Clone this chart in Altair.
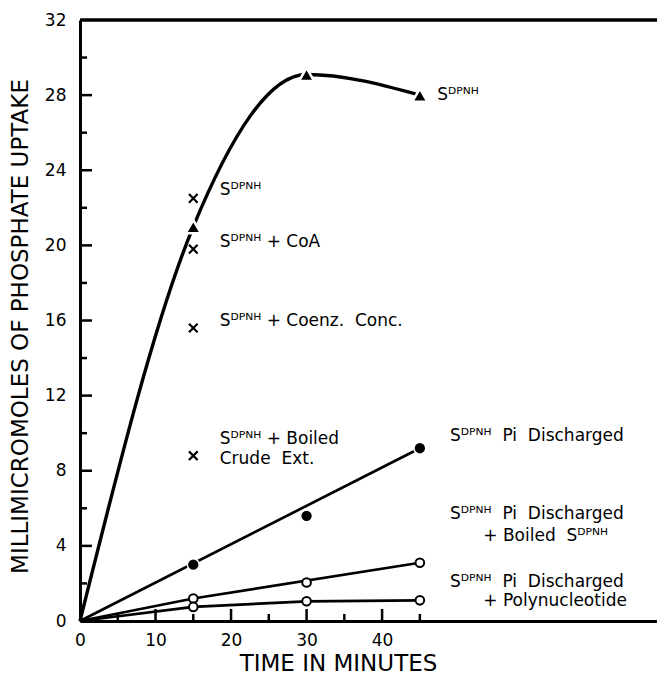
import altair as alt
import pandas as pd

# ---- data ----
tri_t = [0, 15, 30, 45]
tri_v = [0, 21.0, 29.1, 28.0]

cross_t = [15, 15, 15, 15]
cross_v = [22.5, 19.8, 15.6, 8.8]

filled_t = [15, 30, 45]
filled_v = [3.0, 5.6, 9.2]
filled_line_t = [0, 45]
filled_line_v = [0, 9.2]

open1_t = [15, 30, 45]
open1_v = [1.2, 2.05, 3.1]
open1_line_t = [0, 15, 45]
open1_line_v = [0, 1.2, 3.1]

open2_t = [15, 30, 45]
open2_v = [0.75, 1.05, 1.1]
open2_line_t = [0, 15, 30, 45]
open2_line_v = [0, 0.75, 1.05, 1.1]

SUP = "S\u1d30\u1d3e\u1d3a\u1d34"
NB = "\u00a0"
label_text = [
    SUP,
    SUP,
    SUP + " + CoA",
    SUP + " + Coenz." + NB + " Conc.",
    SUP + " + Boiled",
    "Crude" + NB + " Ext.",
    SUP + NB + " Pi" + NB + " Discharged",
    SUP + NB + " Pi" + NB + " Discharged",
    "+ Boiled" + NB + " " + SUP,
    SUP + NB + " Pi" + NB + " Discharged",
    "+ Polynucleotide",
]
label_t = [47.3, 18.5, 18.5, 18.5, 18.5, 18.5, 49.0, 49.0, 53.4, 49.0, 53.4]
label_v = [28.0, 22.95, 20.2, 16.0, 9.7, 8.6, 9.85, 5.72, 4.5, 2.05, 1.05]

x_ticks_major = [10, 20, 30, 40]
x_ticks_minor = [5, 15, 25, 35, 45]
y_ticks_major = [4, 8, 12, 16, 20, 24, 28]
y_ticks_minor = [2, 6, 10, 14, 18, 22, 26, 30]
x_label_values = [0, 10, 20, 30, 40]
y_label_values = [0, 4, 8, 12, 16, 20, 24, 28, 32]

x_title = "TIME IN MINUTES"
y_title = "MILLIMICROMOLES OF PHOSPHATE UPTAKE"

FONT = "DejaVu Sans"
W, H = 577, 601

xs = alt.Scale(domain=[0, 76.4], nice=False, zero=False)
ys = alt.Scale(domain=[0, 32], nice=False, zero=False)

x_axis = alt.Axis(values=x_label_values, ticks=False, grid=False, domain=True,
                  domainWidth=3, domainColor="black", labelFlush=False,
                  labelFont=FONT, labelFontSize=17, labelColor="black", labelPadding=11,
                  title=x_title, titleFont=FONT, titleFontSize=23, titleFontWeight="normal",
                  titleColor="black", titleX=258, titleY=54, titleAlign="center",
                  titleBaseline="bottom")
y_axis = alt.Axis(values=y_label_values, ticks=False, grid=False, domain=True,
                  domainWidth=3, domainColor="black", labelFlush=False,
                  labelFont=FONT, labelFontSize=17, labelColor="black", labelPadding=14,
                  title=y_title, titleFont=FONT, titleFontSize=23, titleFontWeight="normal",
                  titleColor="black", titleAngle=270, titleX=-53, titleY=306,
                  titleAlign="center", titleBaseline="alphabetic")

def X():
    return alt.X("t:Q", scale=xs, axis=x_axis)

def Y():
    return alt.Y("v:Q", scale=ys, axis=y_axis)

# curves
tri_df = pd.DataFrame({"t": tri_t, "v": tri_v})
tri_line = alt.Chart(tri_df).mark_line(color="black", strokeWidth=3.4, interpolate="monotone").encode(
    x=X(), y=Y())

lines_df = pd.concat([
    pd.DataFrame({"t": filled_line_t, "v": filled_line_v, "s": "filled"}),
    pd.DataFrame({"t": open1_line_t, "v": open1_line_v, "s": "open1"}),
    pd.DataFrame({"t": open2_line_t, "v": open2_line_v, "s": "open2"}),
])
straight = alt.Chart(lines_df).mark_line(color="black", strokeWidth=2.7).encode(
    x=X(), y=Y(), detail="s:N")

# inward ticks
xtick_major = alt.Chart(pd.DataFrame({"t": x_ticks_major})).mark_rule(color="black", strokeWidth=2.5).encode(
    x=X(), y=alt.value(H), y2=alt.value(H - 12))
xtick_minor = alt.Chart(pd.DataFrame({"t": x_ticks_minor})).mark_rule(color="black", strokeWidth=2.5).encode(
    x=X(), y=alt.value(H), y2=alt.value(H - 7))
ytick_major = alt.Chart(pd.DataFrame({"v": y_ticks_major})).mark_rule(color="black", strokeWidth=2.5).encode(
    y=Y(), x=alt.value(0), x2=alt.value(12))
ytick_minor = alt.Chart(pd.DataFrame({"v": y_ticks_minor})).mark_rule(color="black", strokeWidth=2.5).encode(
    y=Y(), x=alt.value(0), x2=alt.value(7))

top_frame = alt.Chart(pd.DataFrame({"a": [0]})).mark_rule(color="black", strokeWidth=3.5).encode(
    x=alt.value(0), x2=alt.value(W), y=alt.value(0))

# markers (white halo imitates the gaps the draughtsman left around symbols)
tri_pts = alt.Chart(pd.DataFrame({"t": tri_t[1:], "v": tri_v[1:]})).mark_point(
    shape="triangle-up", filled=True, fill="black", stroke="white", strokeWidth=2.5,
    size=230, opacity=1).encode(x=X(), y=Y())
filled_pts = alt.Chart(pd.DataFrame({"t": filled_t, "v": filled_v})).mark_point(
    shape="circle", filled=True, fill="black", stroke="white", strokeWidth=1.5,
    size=140, opacity=1).encode(x=X(), y=Y())
open_df = pd.concat([pd.DataFrame({"t": open1_t, "v": open1_v}),
                     pd.DataFrame({"t": open2_t, "v": open2_v})])
open_pts = alt.Chart(open_df).mark_point(
    shape="circle", filled=True, fill="white", stroke="black", strokeWidth=2, size=75, opacity=1).encode(
    x=X(), y=Y())
cross_pts = alt.Chart(pd.DataFrame({"t": cross_t, "v": cross_v})).mark_point(
    shape="M -1 -1 L 1 1 M -1 1 L 1 -1", filled=False, color="black", strokeWidth=2.2,
    size=75, opacity=1).encode(x=X(), y=Y())

labels = alt.Chart(pd.DataFrame({"t": label_t, "v": label_v, "txt": label_text})).mark_text(
    align="left", baseline="middle", font=FONT, fontSize=17, color="black").encode(
    x=X(), y=Y(), text="txt:N")

chart = alt.layer(
    tri_line, straight, xtick_major, xtick_minor, ytick_major, ytick_minor, top_frame,
    tri_pts, filled_pts, open_pts, cross_pts, labels
).properties(
    width=W, height=H,
    autosize=alt.AutoSizeParams(type="none"),
    padding={"left": 72, "top": 12, "right": 0, "bottom": 55},
    background="white",
).configure_view(stroke=None)

chart.save("out.html", embed_options={"renderer": "svg", "actions": False})
